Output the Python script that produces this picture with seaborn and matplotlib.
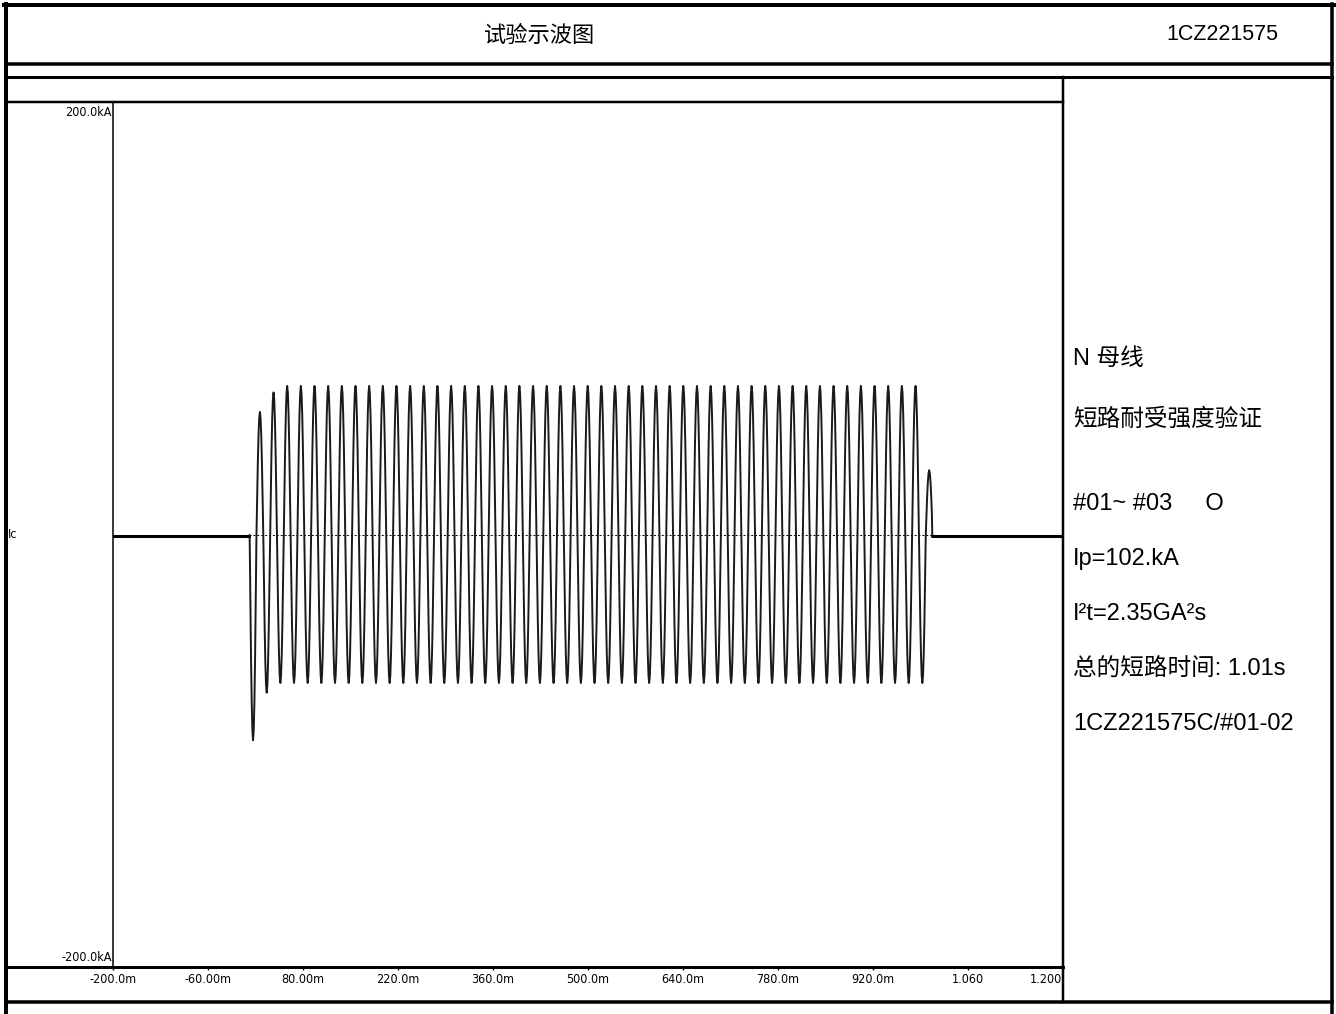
import matplotlib
matplotlib.use("Agg")
import numpy as np
import pandas as pd
import seaborn as sns
import matplotlib.pyplot as plt
from matplotlib.lines import Line2D
from matplotlib import font_manager as fm

sns.set_theme(style="white")
plt.rcParams["font.family"] = ["Liberation Sans", "Noto Sans CJK SC", "DejaVu Sans"]

# ---------------- data ----------------
title_text = "试验示波图"
report_no = "1CZ221575"
channel_name = "Ic"

x_tick_values_s = [-0.20, -0.06, 0.08, 0.22, 0.36, 0.50, 0.64, 0.78, 0.92, 1.06, 1.20]
x_tick_labels = ["-200.0m", "-60.00m", "80.00m", "220.0m", "360.0m", "500.0m",
                 "640.0m", "780.0m", "920.0m", "1.060", "1.200"]
y_limits_kA = [-200.0, 200.0]
y_limit_labels = ["-200.0kA", "200.0kA"]

fault_start_s = 0.0
fault_end_s = 1.008
first_extremum_s = 0.0065
half_period_s = 0.01007
baseline_kA = -0.5

# one extremum per half cycle (kA), 100 half cycles
half_cycle_peaks_kA = [
    -95.0, 57.0, -73.0, 66.0, -68.5, 69.0,
    -68.5, 69.0, -68.5, 69.0, -68.5, 69.0, -68.5, 69.0, -68.5, 69.0,
    -68.5, 69.0, -68.5, 69.0, -68.5, 69.0, -68.5, 69.0, -68.5, 69.0,
    -68.5, 69.0, -68.5, 69.0, -68.5, 69.0, -68.5, 69.0, -68.5, 69.0,
    -68.5, 69.0, -68.5, 69.0, -68.5, 69.0, -68.5, 69.0, -68.5, 69.0,
    -68.5, 69.0, -68.5, 69.0, -68.5, 69.0, -68.5, 69.0, -68.5, 69.0,
    -68.5, 69.0, -68.5, 69.0, -68.5, 69.0, -68.5, 69.0, -68.5, 69.0,
    -68.5, 69.0, -68.5, 69.0, -68.5, 69.0, -68.5, 69.0, -68.5, 69.0,
    -68.5, 69.0, -68.5, 69.0, -68.5, 69.0, -68.5, 69.0, -68.5, 69.0,
    -68.5, 69.0, -68.5, 69.0, -68.5, 69.0, -68.5, 69.0, -68.5, 69.0,
    -68.5, 69.0, -68.5,
    30.0,
]
# shape of one half-cycle lobe (fraction of its peak), as seen in the trace
lobe_shape = [0.0, 0.31, 0.59, 0.81, 0.95, 1.0, 0.95, 0.81, 0.59, 0.31]

info_lines = [
    "N 母线",
    "短路耐受强度验证",
    "#01~ #03     O",
    "Ip=102.kA",
    "I²t=2.35GA²s",
    "总的短路时间: 1.01s",
    "1CZ221575C/#01-02",
]
info_y_px = [359, 419, 504, 559, 614, 669, 724]

# ---------------- figure & helpers ----------------
W, H = 1336, 1014
fig = plt.figure(figsize=(W / 100, H / 100), dpi=100)
fig.patch.set_facecolor("white")


def fx(px):
    return px / W


def fy(py):
    return 1 - py / H


def seg(x0, y0, x1, y1, lw_px):
    fig.add_artist(Line2D([fx(x0), fx(x1)], [fy(y0), fy(y1)], transform=fig.transFigure,
                          color="black", linewidth=lw_px * 0.72, solid_capstyle="projecting"))


names = {f.name for f in fm.fontManager.ttflist}
narrow = "Liberation Sans Narrow" if "Liberation Sans Narrow" in names else "DejaVu Sans"
narrow_kw = dict(family=narrow)
if narrow == "DejaVu Sans":
    narrow_kw["stretch"] = "condensed"

# ---------------- plot area ----------------
ax = fig.add_axes([fx(113), fy(967), fx(1062.5) - fx(113), fy(103) - fy(967)])
ax.set_facecolor("none")

# build the trace: flat, one lobe per half cycle, flat
n_sh = len(lobe_shape)
t_list = [x_tick_values_s[0], fault_start_s]
i_list = [baseline_kA, baseline_kA]
for k, pk in enumerate(half_cycle_peaks_kA):
    centre = first_extremum_s + half_period_s * k
    for j, f in enumerate(lobe_shape):
        t_list.append(centre - half_period_s / 2 + half_period_s * j / n_sh)
        i_list.append(pk * f)
t_list += [fault_end_s, fault_end_s, x_tick_values_s[-1]]
i_list += [0.0, baseline_kA, baseline_kA]
trace = pd.DataFrame({"t": t_list, "i": i_list})

ax.axhline(0, color="black", linewidth=0.7, linestyle=(0, (2, 2)), zorder=1)
sns.lineplot(data=trace, x="t", y="i", ax=ax, estimator=None, sort=False,
             color="#1a1a1a", linewidth=1.4, zorder=3)
pre = pd.DataFrame({"t": [x_tick_values_s[0], fault_start_s], "i": [baseline_kA, baseline_kA]})
post = pd.DataFrame({"t": [fault_end_s, x_tick_values_s[-1]], "i": [baseline_kA, baseline_kA]})
for d in (pre, post):
    sns.lineplot(data=d, x="t", y="i", ax=ax, estimator=None, sort=False,
                 color="black", linewidth=2.2, zorder=4)

ax.set_xlim(x_tick_values_s[0], x_tick_values_s[-1])
ax.set_ylim(y_limits_kA[0], y_limits_kA[1])
ax.set_xlabel("")
ax.set_ylabel("")
ax.set_yticks([])
ax.set_xticks(x_tick_values_s)
ax.set_xticklabels(x_tick_labels, fontsize=9, color="black", **narrow_kw)
ax.get_xticklabels()[-1].set_ha("right")
ax.tick_params(axis="x", bottom=True, direction="out", length=2.5, width=1.0,
               pad=2.0, colors="black")
for s in ["top", "right", "bottom"]:
    ax.spines[s].set_visible(False)
ax.spines["left"].set_color("black")
ax.spines["left"].set_linewidth(1.1)

ax.text(x_tick_values_s[0] - 0.002, y_limits_kA[1] - 1.5, y_limit_labels[1], ha="right", va="top",
        fontsize=9, color="black", **narrow_kw)
ax.text(x_tick_values_s[0] - 0.002, y_limits_kA[0] + 1.5, y_limit_labels[0], ha="right", va="bottom",
        fontsize=9, color="black", **narrow_kw)
fig.text(fx(8), fy(535), channel_name, ha="left", va="center", fontsize=9, color="black", **narrow_kw)

# ---------------- frame lines ----------------
seg(4, 5, 1334, 5, 4)        # top border
seg(6, 4, 6, 1014, 4)        # left border
seg(1332, 4, 1332, 1014, 3.5)  # right border
seg(6, 64, 1332, 64, 3.5)
seg(6, 77, 1332, 77, 3)
seg(6, 102, 1063, 102, 2.5)
seg(1063, 77, 1063, 1002, 2.5)
seg(6, 967, 1063, 967, 3)
seg(6, 1002, 1332, 1002, 3.5)

# ---------------- texts ----------------
fig.text(fx(540), fy(35), title_text, ha="center", va="center", fontsize=16,
         family=["Noto Sans CJK SC"], color="black")
fig.text(fx(1222), fy(35), report_no, ha="center", va="center", fontsize=15.5,
         family=["Liberation Sans"], color="black")
for line, ypx in zip(info_lines, info_y_px):
    fig.text(fx(1073), fy(ypx), line, ha="left", va="center", fontsize=17,
             family=["Liberation Sans", "Noto Sans CJK SC"], color="black")

fig.savefig("out.png", dpi=100, facecolor="white")
